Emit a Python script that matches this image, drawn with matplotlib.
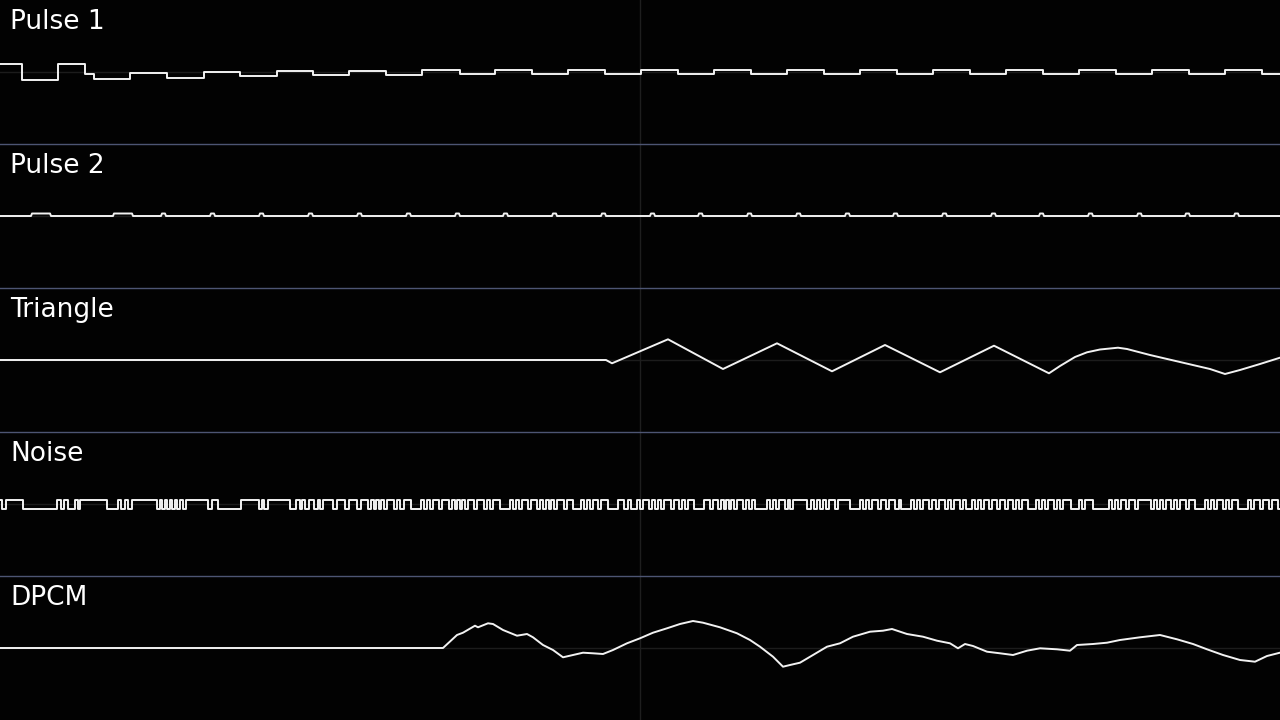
import matplotlib
matplotlib.use('Agg')
import matplotlib.pyplot as plt
from matplotlib.lines import Line2D
import numpy as np

# channel names, top to bottom
channels = ['Pulse 1', 'Pulse 2', 'Triangle', 'Noise', 'DPCM']

# Pulse 1: step edges (sample position) and the level of each step (offset from centre)
p1_edges = [0, 22, 58, 85, 94, 130, 167, 204, 240, 277, 313, 349, 386, 422, 460,
            495, 532, 568, 605, 641, 678, 714, 751, 787, 824, 860, 897, 933, 970,
            1006, 1043, 1079, 1116, 1152, 1189, 1225, 1262, 1280]
p1_levels = [8, -8, 8.5, -2, -7, -1, -5.5, 0, -4, 1, -3, 1.5, -2.5,
             2, -2, 2, -2, 2, -2, 2, -2, 2, -2, 2, -2, 2, -2, 2, -2,
             2, -2, 2, -2, 2, -2, 2, -2]

# Pulse 2: short bumps above a flat line (start, end)
p2_bumps = [(31, 51), (113, 133), (161, 166), (210, 215), (259, 264), (308, 313),
            (357, 362), (406, 411), (455, 460), (503, 508), (552, 557), (601, 606),
            (650, 655), (698, 703), (747, 752), (796, 801), (845, 850), (893, 898),
            (942, 947), (991, 996), (1039, 1044), (1088, 1093), (1137, 1142),
            (1185, 1190), (1234, 1239)]
p2_height = 2.5

# Triangle: vertices
tri_x = [0, 606, 612, 668, 723, 777, 832, 885, 940, 994, 1049, 1060, 1075, 1087,
         1100, 1118, 1127, 1150, 1180, 1210, 1225, 1240, 1260, 1280]
tri_y = [0, 0, -3.3, 20.7, -9, 16.7, -11.3, 15, -12.3, 14.3, -13.3, -6, 3, 7.7,
         10.5, 12.3, 11, 5, -2, -9, -14, -10, -4, 2.3]

# Noise: run lengths, alternating high / low, starting high
noise_runs = [2, 4, 17, 34, 4, 3, 4, 7, 3, 2, 27, 11, 3, 4, 3, 4, 25, 3, 2, 3, 2, 3,
              2, 3, 2, 3, 3, 3, 22, 4, 6, 23, 18, 3, 2, 4, 22, 6, 4, 2, 3, 4, 5, 4, 2,
              3, 10, 4, 8, 4, 8, 4, 7, 3, 3, 2, 3, 2, 3, 3, 7, 3, 3, 4, 7, 10, 3, 3, 3,
              3, 6, 3, 7, 3, 3, 2, 3, 2, 3, 3, 6, 3, 7, 3, 3, 3, 7, 10, 3, 3, 3, 3, 6,
              3, 6, 3, 3, 3, 3, 2, 3, 3, 7, 3, 6, 8, 3, 3, 3, 3, 5, 3, 7, 10, 6, 4, 3,
              6, 3,
              3, 6, 3, 3, 3, 3, 3, 7, 3, 5, 3, 3, 3, 6, 10, 6, 3, 5, 3, 3, 2, 3, 2, 3,
              3, 6, 3, 3, 3, 3, 12, 3, 3, 3, 3, 6, 3, 2, 3, 14, 4, 3, 3, 3, 3, 3, 3, 6,
              3, 12, 10, 3, 3, 3, 3, 6, 3, 5, 3, 6, 4, 2, 10, 3, 3, 3, 3, 6, 3, 4, 3,
              6, 3, 3, 3, 6,
              3, 3, 6, 3, 3, 3, 3, 5, 3, 5, 3, 5, 3, 5, 3, 3, 3, 6, 8, 3, 3, 3, 3, 6,
              3, 3, 3, 8, 8, 3, 3, 8, 16, 3, 3, 3, 3, 5, 3, 6, 3, 13, 3, 3, 3, 3, 3, 5,
              3, 3, 3, 6, 3, 6, 10, 3, 3, 3, 3, 6, 3, 3, 3, 6, 10, 3, 3, 6, 3, 6, 3, 6, 2]
noise_high = 4
noise_low = -5

# DPCM: vertices
dpcm_x = [0, 443, 457, 463, 475, 478, 488, 493, 503, 517, 527, 533, 543, 553, 563,
          573, 583, 593, 603, 613, 627, 640, 653, 667, 680, 693, 703, 720, 737, 750,
          760, 773, 783, 790, 800, 813, 827, 840, 853, 870, 883, 892, 907, 923, 937,
          950, 958, 965, 973, 987, 1000, 1013, 1027, 1040, 1057, 1070, 1077, 1093,
          1107, 1120, 1140, 1160, 1177, 1193, 1207, 1223, 1240, 1255, 1267, 1280]
dpcm_y = [0, 0, 13, 15.3, 22.3, 20.7, 24.7, 24, 18, 12.3, 14, 10.7, 3, -2, -9.3,
          -7, -4.7, -5.3, -6, -2, 4.7, 9.7, 15.3, 19.7, 24, 27, 25.3, 20.7, 14.7, 8,
          1.3, -8.7, -18.7, -17, -14.7, -7, 1.3, 4.7, 11.3, 16.3, 17.3, 19, 14, 11.3,
          7.3, 4.7, -0.3, 4, 2, -3.7, -5.3, -7, -2.7, -0.3, -1.3, -2.7, 3, 4, 5.3,
          8, 10.7, 13, 8.7, 4, -1.3, -7, -12, -13.7, -8, -4.7]

# build step paths
p1_x = np.repeat(p1_edges, 2)[1:-1]
p1_y = np.repeat(p1_levels, 2)

p2_x, p2_y = [0], [0]
for s, e in p2_bumps:
    p2_x += [s, s + 1, e - 1, e]
    p2_y += [0, p2_height, p2_height, 0]
p2_x.append(1280)
p2_y.append(0)

nz_edges = np.concatenate([[0], np.cumsum(noise_runs)])
nz_levels = [noise_high if i % 2 == 0 else noise_low for i in range(len(noise_runs))]
nz_x = np.repeat(nz_edges, 2)[1:-1]
nz_y = np.repeat(nz_levels, 2)

series = [(p1_x, p1_y), (p2_x, p2_y), (tri_x, tri_y), (nz_x, nz_y), (dpcm_x, dpcm_y)]

fig = plt.figure(figsize=(12.8, 7.2), dpi=100, facecolor='#020202')

n = len(channels)
for i, (name, (x, y)) in enumerate(zip(channels, series)):
    ax = fig.add_axes([0, 1 - (i + 1) / n, 1, 1 / n])
    ax.set_facecolor('#020202')
    ax.set_xlim(0, 1280)
    ax.set_ylim(-72, 72)
    ax.axis('off')
    ax.axhline(0, color='#1c1c1c', lw=1, zorder=1)
    ax.axvline(640, color='#1e1e1e', lw=1, zorder=1)
    ax.plot(x, y, color='#f2f2f2', lw=1.4, zorder=3, solid_joinstyle='round')
    ax.text(0.008, 0.94, name, transform=ax.transAxes, color='white',
            fontsize=19, va='top', ha='left', family='DejaVu Sans')

# separators between channels
for k in range(1, n):
    yy = 1 - k / n
    fig.add_artist(Line2D([0, 1], [yy, yy], transform=fig.transFigure,
                          color='#4d5573', lw=1))

fig.savefig('out.png', dpi=100, facecolor=fig.get_facecolor())
